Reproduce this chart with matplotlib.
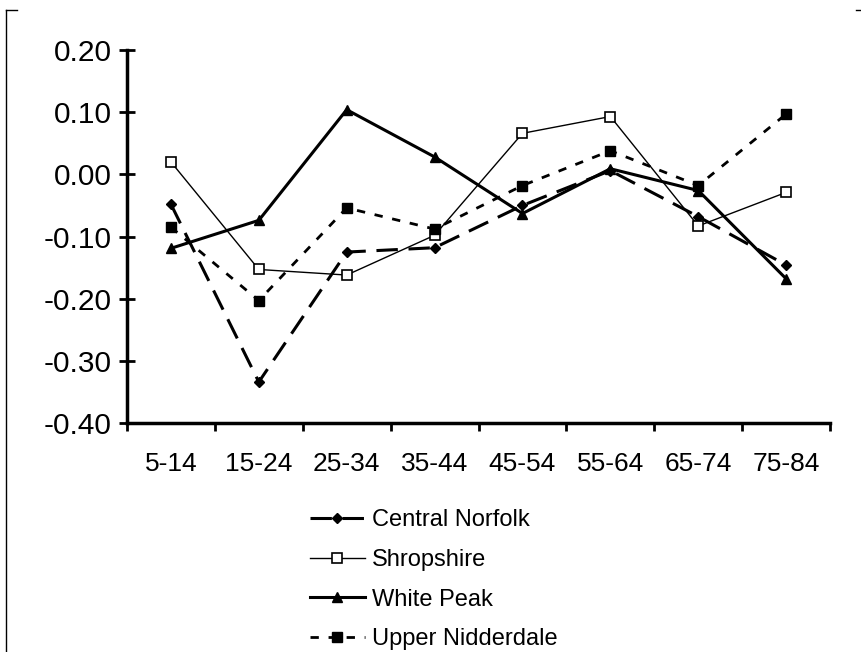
import numpy as np
import matplotlib.pyplot as plt
from matplotlib.lines import Line2D

plt.rcParams['font.family'] = ['Liberation Sans', 'DejaVu Sans']

age_groups = ["5-14", "15-24", "25-34", "35-44", "45-54", "55-64", "65-74", "75-84"]
central_norfolk = [-0.048, -0.334, -0.125, -0.118, -0.050, 0.006, -0.068, -0.146]
shropshire = [0.020, -0.153, -0.162, -0.098, 0.066, 0.093, -0.083, -0.029]
white_peak = [-0.119, -0.074, 0.104, 0.028, -0.063, 0.009, -0.026, -0.168]
upper_nidderdale = [-0.085, -0.203, -0.054, -0.088, -0.018, 0.038, -0.018, 0.097]
y_ticks = [-0.40, -0.30, -0.20, -0.10, 0.00, 0.10, 0.20]
y_labels = ["-0.40", "-0.30", "-0.20", "-0.10", "0.00", "0.10", "0.20"]

fig = plt.figure(figsize=(8.62, 6.52), dpi=100)
ax = fig.add_axes([0.1473, 0.3512, 0.963 - 0.1473, 0.9233 - 0.3512])

x = np.arange(len(age_groups))
ax.plot(x, central_norfolk, color="black", lw=2.2, ls=(0, (7, 3.5)),
        marker="D", ms=5, label="Central Norfolk")
ax.plot(x, shropshire, color="black", lw=1.0, ls="-",
        marker="s", ms=7, mfc="white", mew=1.2, label="Shropshire")
ax.plot(x, white_peak, color="black", lw=2.2, ls="-",
        marker="^", ms=7, label="White Peak")
ax.plot(x, upper_nidderdale, color="black", lw=2.0, ls=(0, (3, 3.5)),
        marker="s", ms=7, label="Upper Nidderdale")

ax.set_xlim(-0.5, len(age_groups) - 0.5)
ax.set_ylim(-0.4, 0.2)
ax.set_yticks(y_ticks)
ax.set_yticklabels(y_labels, fontsize=21.5)

ax.set_xticks(np.arange(-0.5, len(age_groups)), labels=[])
ax.set_xticks(x, minor=True)
ax.set_xticklabels(age_groups, minor=True, fontsize=19)
ax.tick_params(axis="x", which="minor", length=0, pad=21)
ax.tick_params(axis="x", which="major", direction="out", length=6, width=2)
ax.tick_params(axis="y", direction="inout", length=12, width=2, pad=5)

for s in ["top", "right"]:
    ax.spines[s].set_visible(False)
for s in ["left", "bottom"]:
    ax.spines[s].set_linewidth(2.5)

ax.legend(loc="upper left", bbox_to_anchor=(0.26, -0.231), frameon=False,
          fontsize=17, handlelength=2.33, handletextpad=0.3, labelspacing=0.75,
          borderaxespad=0, borderpad=0)

# scanned page frame remnants
fig.add_artist(Line2D([6 / 862, 6 / 862], [0, 1 - 10 / 652], color="black", lw=1))
fig.add_artist(Line2D([6 / 862, 17 / 862], [1 - 10 / 652, 1 - 10 / 652], color="black", lw=1))
fig.add_artist(Line2D([856 / 862, 862 / 862], [1 - 10 / 652, 1 - 10 / 652], color="black", lw=1))

fig.savefig("out.png", dpi=100)
